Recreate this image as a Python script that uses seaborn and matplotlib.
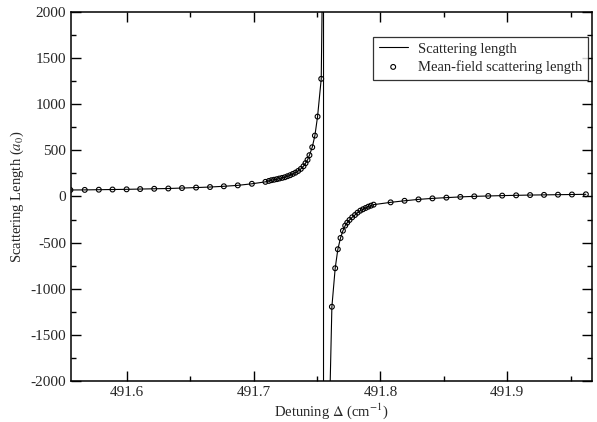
import pandas as pd
import matplotlib
matplotlib.use("Agg")
import matplotlib.pyplot as plt
from matplotlib.ticker import MultipleLocator
import seaborn as sns

# Mean-field points, left of the resonance
left_x = [491.5555, 491.5668, 491.5779, 491.5887, 491.5998, 491.6105, 491.6216,
          491.6327, 491.6435, 491.6546, 491.6656, 491.6765, 491.6875, 491.6986,
          491.7093, 491.7120, 491.7140, 491.7161, 491.7183, 491.7203, 491.7225,
          491.7246, 491.7267, 491.7288, 491.7309, 491.7330, 491.7351, 491.7372,
          491.7393, 491.7409, 491.7425, 491.7440, 491.7462, 491.7483, 491.7504,
          491.7533]
left_y = [70, 71, 73, 75, 77, 80, 83, 86, 91, 96, 102, 110, 120, 137,
          158, 168, 176, 181, 187, 194, 201, 208, 219, 230, 244, 258,
          276, 298, 327, 360, 396, 447, 533, 659, 865, 1274]

# right of the resonance
right_x = [491.7617, 491.7643, 491.7664, 491.7685, 491.7704, 491.7722, 491.7738,
           491.7756, 491.7777, 491.7799, 491.7819, 491.7841, 491.7862, 491.7883,
           491.7904, 491.7925, 491.7946, 491.8080, 491.8190, 491.8300, 491.8410,
           491.8520, 491.8630, 491.8740, 491.8850, 491.8960, 491.9070, 491.9180,
           491.9290, 491.9400, 491.9510, 491.9620]
right_y = [-1195, -778, -572, -450, -371, -316, -284, -255, -226, -201,
           -176, -154, -139, -125, -111, -100, -89, -64, -47, -32, -21,
           -13, -5, 1, 5, 9, 12, 15, 17, 19, 21, 23]

# where the solid curve runs off the top and comes back from the bottom
pole_up_x = [491.7542, 491.7551]
pole_up_y = [2300, 60000]
pole_down_x = [491.7551, 491.7603]
pole_down_y = [-60000, -2050]

line_df = pd.DataFrame({
    "x": left_x + pole_up_x + pole_down_x + right_x,
    "y": left_y + pole_up_y + pole_down_y + right_y,
})
pts_df = pd.DataFrame({"x": left_x + right_x, "y": left_y + right_y})

sns.set_style("ticks")
plt.rcParams["font.family"] = ["Liberation Serif", "DejaVu Serif"]
plt.rcParams["mathtext.fontset"] = "stix"
plt.rcParams["axes.unicode_minus"] = False

fig = plt.figure(figsize=(5.97, 4.22), dpi=100)
ax = fig.add_axes([0.119, 0.097, 0.873, 0.875])

sns.lineplot(data=line_df, x="x", y="y", sort=False, estimator=None,
             color="black", linewidth=0.8, ax=ax, label="Scattering length")
sns.scatterplot(data=pts_df, x="x", y="y", ax=ax, marker="o", s=12,
                facecolor="none", edgecolor="black", linewidth=0.8,
                label="Mean-field scattering length", zorder=3)

ax.set_xlim(491.556, 491.967)
ax.set_ylim(-2000, 2000)
ax.xaxis.set_major_locator(MultipleLocator(0.1))
ax.xaxis.set_minor_locator(MultipleLocator(0.05))
ax.yaxis.set_major_locator(MultipleLocator(500))
ax.yaxis.set_minor_locator(MultipleLocator(250))
ax.tick_params(which="both", direction="in", top=True, right=True,
               labelsize=11, width=1, color="black")
ax.tick_params(which="major", length=7)
ax.tick_params(which="minor", length=3.5)
for s in ax.spines.values():
    s.set_linewidth(1.1)
    s.set_color("black")

ax.set_xlabel(r"Detuning $\Delta$ (cm$^{-1}$)", fontsize=10.5, labelpad=2)
ax.set_ylabel(r"Scattering Length ($a_0$)", fontsize=10.5, labelpad=3)

leg = ax.legend(loc="upper right", bbox_to_anchor=(0.992, 0.933), fontsize=10.5,
                frameon=True, fancybox=False, edgecolor="black",
                handlelength=2.0, borderpad=0.4, labelspacing=0.3,
                handletextpad=0.7, borderaxespad=0)
leg.get_frame().set_linewidth(0.9)

fig.savefig("out.png", dpi=100)
